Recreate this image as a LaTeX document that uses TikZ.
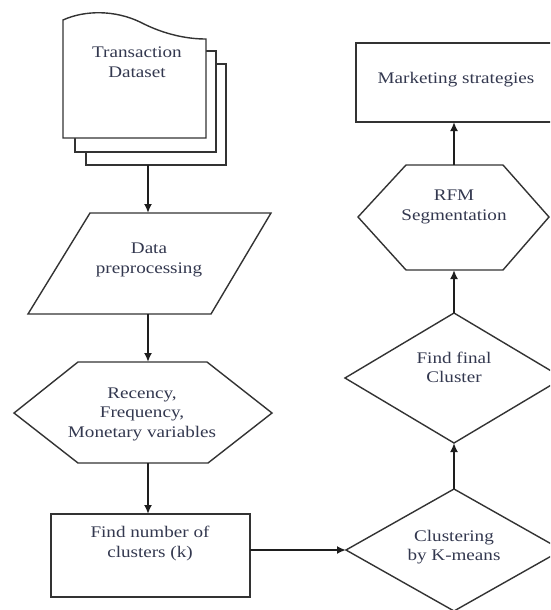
\documentclass[tikz,border=0pt]{standalone}
\usepackage{fontspec}
\setmainfont{Liberation Serif}[FakeStretch=1.18]
\usetikzlibrary{arrows.meta}
\definecolor{txtc}{HTML}{33384F}
\definecolor{linec}{HTML}{333333}
\definecolor{arrc}{HTML}{1E1E1E}
\begin{document}
\begin{tikzpicture}[x=1pt,y=-1pt,
  shapeline/.style={draw=linec, line width=1.4pt, fill=white, line join=miter},
  flow/.style={draw=arrc, line width=1.9pt, -{Latex[length=9pt,width=8pt]}},
  lbl/.style={align=center, font=\fontsize{16.2}{19.5}\selectfont, text=txtc, inner sep=0pt}]
\useasboundingbox (0,0) rectangle (550,610);
\clip (0,0) rectangle (550,610);
\fill[white] (0,0) rectangle (550,610);

% document stack
\draw[shapeline] (86,64) rectangle (226,165);
\draw[shapeline] (75,51) rectangle (216,152);
\draw[shapeline] (63,138) -- (63,20) .. controls (85,10) and (115,10) .. (140,22)
  .. controls (165,35) and (188,39) .. (206,39) -- (206,138) -- cycle;
\node[lbl] (ds) at (137,62) {Transaction\\Dataset};
\coordinate (dsout) at (148,165);

% parallelogram
\draw[shapeline] (90,213) -- (271,213) -- (211,314) -- (28,314) -- cycle;
\node[lbl] (pre) at (149,260) {Data\\preprocessing};
\coordinate (prein) at (148,213);
\coordinate (preout) at (148,314);

% hexagon 1
\draw[shapeline] (78,362) -- (207,362) -- (272,413) -- (208,463) -- (78,463) -- (14,413) -- cycle;
\node[lbl] (rfmv) at (142,414) {Recency,\\Frequency,\\Monetary variables};
\coordinate (hexin) at (148,362);
\coordinate (hexout) at (148,463);

% rectangle 1
\draw[shapeline] (51,514) rectangle (250,597);
\node[lbl] (fnk) at (150,543.5) {Find number of\\clusters (k)};
\coordinate (fnkin) at (148,514);
\coordinate (fnkout) at (250,550);

% diamond 2
\draw[shapeline] (346,550) -- (454,489) -- (562,550) -- (454,611) -- cycle;
\node[lbl] (km) at (454,547) {Clustering\\by K-means};
\coordinate (kmin) at (346,550);
\coordinate (kmout) at (454,489);

% diamond 1
\draw[shapeline] (345,378) -- (454,313) -- (563,378) -- (454,443) -- cycle;
\node[lbl] (ff) at (454,367.5) {Find final\\Cluster};
\coordinate (ffin) at (454,443);
\coordinate (ffout) at (454,313);

% hexagon 2
\draw[shapeline] (406,165) -- (503,165) -- (549,217) -- (503,270) -- (406,270) -- (358,217) -- cycle;
\node[lbl] (seg) at (454,207) {RFM\\Segmentation};
\coordinate (segin) at (454,270);
\coordinate (segout) at (454,165);

% rectangle 2
\draw[shapeline] (356,43) rectangle (560,122);
\node[lbl] (mk) at (456,80) {Marketing strategies};
\coordinate (mkin) at (454,122);

% connectors
\draw[flow] (dsout) -- (prein);
\draw[flow] (preout) -- (hexin);
\draw[flow] (hexout) -- (fnkin);
\draw[flow] (fnkout) -- (kmin);
\draw[flow] (kmout) -- (ffin);
\draw[flow] (ffout) -- (segin);
\draw[flow] (segout) -- (mkin);
\end{tikzpicture}
\end{document}
